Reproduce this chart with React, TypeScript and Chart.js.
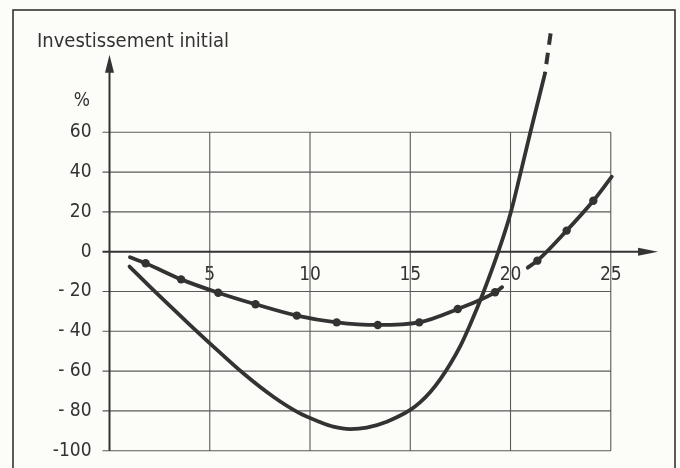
import { useEffect, useRef } from 'react';
import { Chart, registerables } from 'chart.js';

Chart.register(...registerables);

// ---- data ----
const xTicks = [5, 10, 15, 20, 25];
const yTicks = [60, 40, 20, 0, -20, -40, -60, -80, -100];
const yTickLabels = ['60', '40', '20', '0', '- 20', '- 40', '- 60', '- 80', '-100'];

const titleText = 'Investissement initial';
const unitText = '%';

// curve with dots (gap at the "20" label)
const curveAX = [1.02, 1.8, 3.57, 5.42, 7.28, 9.34, 11.33, 13.38, 15.45, 17.37, 19.23, 19.58, 20.2, 20.86, 21.34, 22.8, 24.13, 25.05];
const curveAY = [-2.8, -5.8, -13.9, -20.6, -26.4, -32.1, -35.5, -36.8, -35.5, -28.8, -20.4, -17.8, null, -8, -4.5, 10.6, 25.6, 37.7];
const curveADots = [0, 1, 1, 1, 1, 1, 1, 1, 1, 1, 1, 0, 0, 0, 1, 1, 1, 0];

// solid curve
const curveBX = [1.0, 2.18, 3.85, 5.1, 6.67, 8.17, 9.45, 10.5, 11.16, 12.0, 12.83, 13.83, 15.0, 15.5, 16.0, 16.5, 17.0, 17.5, 18.0, 18.64, 19.39, 20.02, 20.51, 20.99, 21.72];
const curveBY = [-7.5, -19.2, -35.2, -46.9, -61.1, -72.9, -81, -85.6, -87.9, -89.1, -88.4, -85.4, -79.5, -75.6, -70.5, -64, -56.3, -47.3, -36.3, -20.6, 0, 20, 40, 60, 89.6];

// dashed continuation of the solid curve (drawn from the top down)
const curveBExtX = [22.0, 21.72];
const curveBExtY = [109.7, 89.6];

// ---- style ----
const INK = '#333333';
const GRID = '#595959';
const BG = '#fcfcf9';
const FONT = "'DejaVu Sans Condensed', 'DejaVu Sans', sans-serif";

const X_MIN = 0;
const X_MAX = 27.5;
const Y_MIN = -102;
const Y_MAX = 120;
const X_ARROW = 27.36;
const Y_ARROW = 99;

const decor = {
  id: 'decor',
  beforeDraw(chart: any) {
    const { ctx, width, height } = chart;
    ctx.save();
    ctx.fillStyle = BG;
    ctx.fillRect(0, 0, width, height);
    ctx.restore();
  },
  beforeDatasetsDraw(chart: any) {
    const { ctx } = chart;
    const xs = chart.scales.x;
    const ys = chart.scales.y;
    const px = (v: number) => xs.getPixelForValue(v);
    const py = (v: number) => ys.getPixelForValue(v);
    const gxMax = xTicks[xTicks.length - 1];
    const yTop = yTicks[0];
    const yBot = yTicks[yTicks.length - 1];
    ctx.save();
    // frame
    ctx.strokeStyle = INK;
    ctx.lineWidth = 1.6;
    ctx.strokeRect(13, 10, 662, 480);

    // grid
    ctx.strokeStyle = GRID;
    ctx.lineWidth = 1.1;
    ctx.beginPath();
    yTicks.forEach((v) => {
      if (v === 0) return;
      ctx.moveTo(px(0) - 7, py(v));
      ctx.lineTo(px(gxMax), py(v));
    });
    xTicks.forEach((v) => {
      ctx.moveTo(px(v), py(yTop));
      ctx.lineTo(px(v), py(yBot));
    });
    ctx.stroke();

    // axes
    ctx.strokeStyle = INK;
    ctx.fillStyle = INK;
    ctx.lineWidth = 2;
    ctx.beginPath();
    ctx.moveTo(px(0) - 7, py(0));
    ctx.lineTo(px(X_ARROW) - 10, py(0));
    ctx.moveTo(px(0), py(yBot));
    ctx.lineTo(px(0), py(Y_ARROW) + 10);
    ctx.stroke();
    // arrowheads
    ctx.beginPath();
    ctx.moveTo(px(X_ARROW), py(0));
    ctx.lineTo(px(X_ARROW) - 20, py(0) - 4);
    ctx.lineTo(px(X_ARROW) - 20, py(0) + 4);
    ctx.closePath();
    ctx.fill();
    ctx.beginPath();
    ctx.moveTo(px(0), py(Y_ARROW));
    ctx.lineTo(px(0) - 4.5, py(Y_ARROW) + 18);
    ctx.lineTo(px(0) + 4.5, py(Y_ARROW) + 18);
    ctx.closePath();
    ctx.fill();

    // title and unit
    ctx.fillStyle = INK;
    ctx.font = `20px ${FONT}`;
    ctx.textAlign = 'left';
    ctx.textBaseline = 'alphabetic';
    ctx.fillText(titleText, 37, 47);
    ctx.font = `19px ${FONT}`;
    ctx.textAlign = 'right';
    ctx.fillText(unitText, 90, 106);
    ctx.restore();
  },
};

export default function App() {
  const ref = useRef<HTMLCanvasElement | null>(null);

  useEffect(() => {
    document.body.style.margin = '0';
    const canvas = ref.current;
    if (!canvas) return;

    const dataA = curveAX.map((x, i) => ({ x, y: curveAY[i] }));
    const dataB = curveBX.map((x, i) => ({ x, y: curveBY[i] }));
    const dataC = curveBExtX.map((x, i) => ({ x, y: curveBExtY[i] }));

    const chart = new Chart(canvas, {
      type: 'line',
      data: {
        datasets: [
          {
            label: 'A',
            data: dataA as any,
            borderColor: INK,
            backgroundColor: INK,
            borderWidth: 3.8,
            pointRadius: curveADots.map((d) => (d ? 4.2 : 0)),
            pointBackgroundColor: INK,
            pointBorderWidth: 0,
            cubicInterpolationMode: 'monotone',
            spanGaps: false,
            borderCapStyle: 'round',
          },
          {
            label: 'B',
            data: dataB as any,
            borderColor: INK,
            borderWidth: 3.8,
            pointRadius: 0,
            cubicInterpolationMode: 'monotone',
            borderCapStyle: 'round',
          },
          {
            label: 'B+',
            data: dataC as any,
            borderColor: INK,
            borderWidth: 4,
            pointRadius: 0,
            tension: 0,
            borderDash: [11.5, 8],
            borderCapStyle: 'butt',
          },
        ],
      },
      options: {
        responsive: false,
        maintainAspectRatio: false,
        animation: false,
        events: [],
        layout: { padding: { left: 0, right: 19.1, top: 12.9, bottom: 13.3 } },
        plugins: {
          legend: { display: false },
          tooltip: { enabled: false },
          title: { display: false },
        },
        scales: {
          x: {
            type: 'linear',
            min: X_MIN,
            max: X_MAX,
            position: { y: 0 } as any,
            grid: { display: false, drawTicks: false },
            border: { display: false },
            afterBuildTicks: (scale: any) => {
              scale.ticks = xTicks.map((v) => ({ value: v }));
            },
            afterFit: (scale: any) => {
              scale.paddingLeft = 0;
              scale.paddingRight = 0;
              scale.paddingTop = 0;
              scale.paddingBottom = 0;
            },
            ticks: {
              padding: 12,
              color: INK,
              font: { family: FONT, size: 19 },
              maxRotation: 0,
              autoSkip: false,
              callback: (v: any) => String(v),
            },
          },
          y: {
            type: 'linear',
            min: Y_MIN,
            max: Y_MAX,
            position: 'left',
            grid: { display: false, drawTicks: false },
            border: { display: false },
            afterBuildTicks: (scale: any) => {
              scale.ticks = yTicks.map((v) => ({ value: v })).reverse();
            },
            afterFit: (scale: any) => {
              scale.width = 109.5;
              scale.paddingLeft = 0;
              scale.paddingRight = 0;
              scale.paddingTop = 0;
              scale.paddingBottom = 0;
            },
            ticks: {
              padding: 18,
              color: INK,
              font: { family: FONT, size: 19 },
              autoSkip: false,
              callback: (v: any) => {
                const i = yTicks.indexOf(Number(v));
                return i >= 0 ? yTickLabels[i] : '';
              },
            },
          },
        },
      },
      plugins: [decor],
    });

    return () => chart.destroy();
  }, []);

  return (
    <div style={{ width: 680, height: 468 }}>
      <canvas ref={ref} width={680} height={468} style={{ display: 'block' }} />
    </div>
  );
}
